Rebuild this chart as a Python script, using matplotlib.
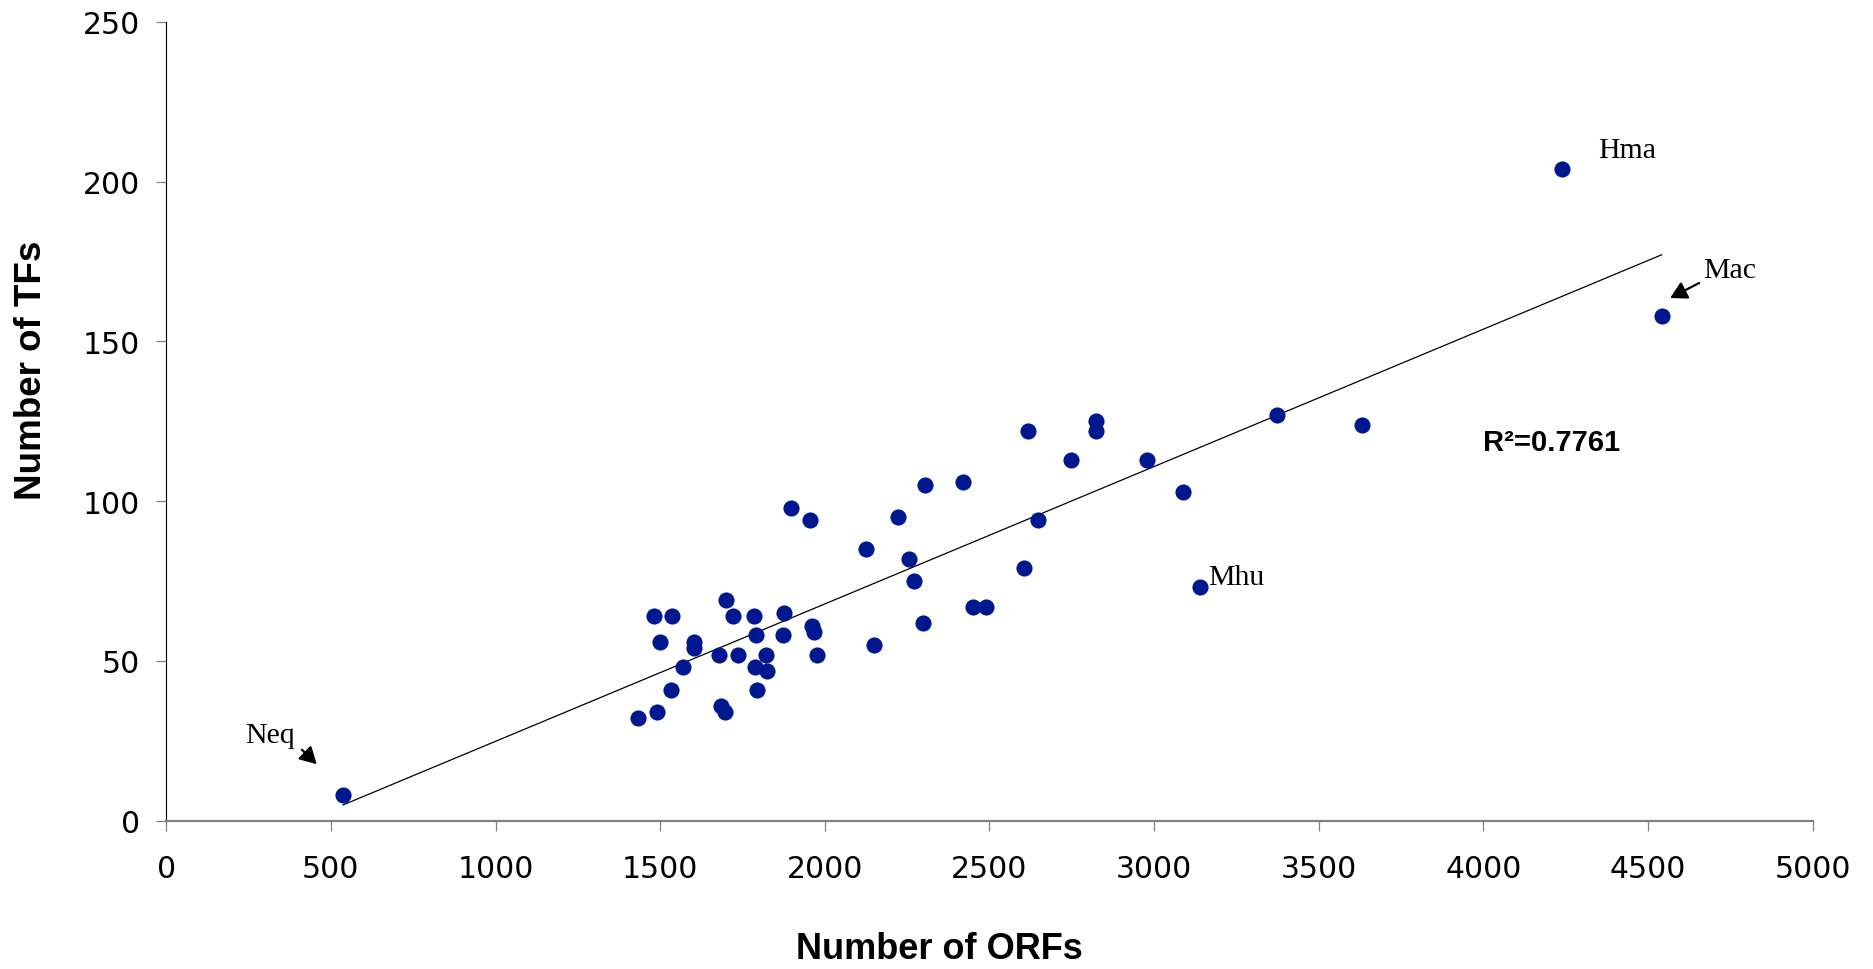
import matplotlib
matplotlib.use("Agg")
import matplotlib.pyplot as plt
import numpy as np

# genome size vs transcription factor count
orfs = [
    537, 1433, 1489, 1532, 1570, 1482, 1535, 1500, 1603, 1603,
    1700, 1720, 1678, 1737, 1786, 1792, 1876, 1873, 1820, 1788,
    1825, 1793, 1685, 1697, 1961, 1966, 1976, 1898, 1954, 2124,
    2222, 2256, 2272, 2149, 2297, 2305, 2420, 2450, 2488, 2604,
    2646, 2748, 2616, 2825, 2825, 2978, 3087, 3140, 3373, 3631,
    4240, 4541,
]
tfs = [
    8, 32, 34, 41, 48, 64, 64, 56, 56, 54,
    69, 64, 52, 52, 64, 58, 65, 58, 52, 48,
    47, 41, 36, 34, 61, 59, 52, 98, 94, 85,
    95, 82, 75, 55, 62, 105, 106, 67, 67, 79,
    94, 113, 122, 125, 122, 113, 103, 73, 127, 124,
    204, 158,
]

# labelled genomes: (name, x, y) of the text, plus optional arrow
labels = ["Hma", "Mac", "Mhu", "Neq"]
label_x = [4348, 4667, 3164, 240]
label_y = [207.7, 170.2, 74.1, 24.6]
arrows = {
    "Mac": ((4655, 168.3), (4567, 163.6)),
    "Neq": ((412, 22.2), (457, 17.7)),
}
r2_text = "R\u00b2=0.7761"

fig = plt.figure(figsize=(18.74, 9.70), dpi=100)
ax = fig.add_axes([0.0887, 0.1529, 0.8786, 0.8234])

ax.scatter(orfs, tfs, s=135, color="#00188F", zorder=3, linewidths=0)

# linear trend line over the data range
slope, intercept = np.polyfit(orfs, tfs, 1)
xs = np.array([min(orfs), max(orfs)])
ax.plot(xs, slope * xs + intercept, color="black", lw=0.9, zorder=2)

ax.set_xlim(0, 5000)
ax.set_ylim(0, 250)
ax.set_xticks(np.arange(0, 5001, 500))
ax.set_yticks(np.arange(0, 251, 50))

for side in ["top", "right"]:
    ax.spines[side].set_visible(False)
ax.spines["left"].set_color("black")
ax.spines["left"].set_linewidth(0.8)
ax.spines["bottom"].set_color("#808080")
ax.spines["bottom"].set_linewidth(1.6)

ax.tick_params(axis="x", direction="out", length=7, width=0.9, color="#808080",
               labelsize=21.5, pad=17)
ax.tick_params(axis="y", direction="out", length=7, width=0.9, color="#808080",
               labelsize=21.5, pad=12)
for lab in ax.get_xticklabels() + ax.get_yticklabels():
    lab.set_fontfamily("DejaVu Sans")

for name, lx, ly in zip(labels, label_x, label_y):
    ax.text(lx, ly, name, fontsize=21.5, family="Liberation Serif",
            ha="left", va="baseline")
for name, (tail, head) in arrows.items():
    ax.annotate("", xy=head, xytext=tail,
                arrowprops=dict(arrowstyle="-|>,head_length=0.5,head_width=0.28",
                                color="black", lw=1.6, shrinkA=0, shrinkB=0,
                                mutation_scale=20))

ax.text(3999, 118.5, r2_text, fontsize=21, fontweight="bold",
        family="Liberation Sans", ha="left", va="center")

fig.text(939 / 1874, 1 - 950 / 970, "Number of ORFs", fontsize=26,
         fontweight="bold", family="Liberation Sans", ha="center", va="center")
fig.text(32 / 1874, 1 - 370 / 970, "Number of TFs", fontsize=26.5,
         fontweight="bold", family="Liberation Sans", ha="center", va="center",
         rotation=90)

fig.savefig("out.png", dpi=100)
